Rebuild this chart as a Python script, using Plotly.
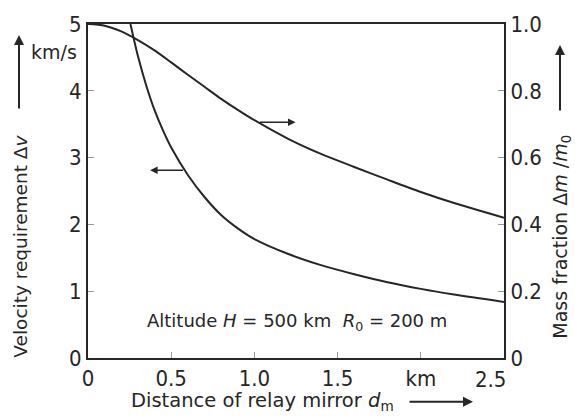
import plotly.graph_objects as go

# Velocity requirement (left axis, km/s)
dist_v = [0.255, 0.30, 0.35, 0.40, 0.45, 0.50, 0.60, 0.70, 0.80, 0.90, 1.00, 1.20, 1.40, 1.60, 1.80, 2.00, 2.20, 2.50]
velocity = [5.0, 4.52, 4.08, 3.71, 3.41, 3.15, 2.74, 2.41, 2.14, 1.94, 1.78, 1.56, 1.39, 1.255, 1.135, 1.035, 0.95, 0.84]

# Mass fraction (right axis)
dist_m = [0.0, 0.1, 0.2, 0.3, 0.4, 0.5, 0.6, 0.7, 0.8, 0.9, 1.0, 1.2, 1.4, 1.6, 1.8, 2.0, 2.2, 2.5]
mass_frac = [1.0, 0.995, 0.978, 0.952, 0.921, 0.885, 0.848, 0.812, 0.776, 0.743, 0.712, 0.657, 0.611, 0.572, 0.534, 0.497, 0.464, 0.42]

x_tickvals = [0, 0.5, 1.0, 1.5, 2.0, 2.5]
x_ticktext = ["0", "0.5", "1.0", "1.5", "km", "2.5"]
y_tickvals = [0, 1, 2, 3, 4, 5]
y2_tickvals = [0, 0.2, 0.4, 0.6, 0.8, 1.0]
y2_ticktext = ["0", "0.2", "0.4", "0.6", "0.8", "1.0"]

INK = "#262626"
TICKFONT = "Liberation Sans Narrow, DejaVu Sans Condensed, Arial"
FONT = "DejaVu Sans, Verdana, sans-serif"

W, H = 575, 416
ML, MR, MT, MB = 88, 71, 22, 58
PW, PH = W - ML - MR, H - MT - MB


def px(xp):
    return (xp - ML) / PW


def py(yp):
    return (H - MB - yp) / PH


fig = go.Figure()
fig.add_trace(go.Scatter(x=dist_v, y=velocity, mode="lines",
                         line=dict(color=INK, width=2, shape="spline", smoothing=0.8),
                         yaxis="y", showlegend=False))
fig.add_trace(go.Scatter(x=dist_m, y=mass_frac, mode="lines",
                         line=dict(color=INK, width=2, shape="spline", smoothing=0.8),
                         yaxis="y2", showlegend=False))

tickfont = dict(family=TICKFONT, size=22, color=INK)
axis_common = dict(showgrid=False, zeroline=False, showline=True, linecolor=INK, linewidth=2,
                   ticks="inside", ticklen=6, tickwidth=1, tickcolor="#999", tickfont=tickfont)

# last x tick label is drawn shifted left of its tick (as in the original), so it is placed separately
x_ticktext_axis = x_ticktext[:-1] + [""]

fig.update_layout(
    width=W, height=H,
    margin=dict(l=ML, r=MR, t=MT, b=MB),
    paper_bgcolor="white", plot_bgcolor="white",
    font=dict(family=FONT, size=18, color=INK),
    xaxis=dict(range=[0, 2.5], tickvals=x_tickvals, ticktext=x_ticktext_axis, mirror=True, **axis_common),
    yaxis=dict(range=[0, 5], tickvals=y_tickvals, **axis_common),
    yaxis2=dict(range=[0, 1], tickvals=y2_tickvals, ticktext=y2_ticktext, overlaying="y", side="right",
                **axis_common),
)


def label(xp, yp, text, angle=0, size=18):
    return dict(x=px(xp), y=py(yp), xref="paper", yref="paper", xanchor="center", yanchor="middle",
                showarrow=False, textangle=angle, text=text, font=dict(family=FONT, size=size, color=INK))


def arrow(xp, yp, dx, dy):
    return dict(x=px(xp), y=py(yp), xref="paper", yref="paper", ax=dx, ay=dy, text="", showarrow=True,
                arrowhead=2, arrowsize=1, arrowwidth=2, arrowcolor=INK)


ann = []
# shifted last x tick label
ann.append(dict(x=x_tickvals[-1], y=0, xref="x", yref="paper", xanchor="right", yanchor="top",
                xshift=4, yshift=-7, showarrow=False, text=x_ticktext[-1], font=tickfont))
# in-plot arrows pointing to the respective axes
ann.append(dict(x=0.3735, y=2.81, xref="x", yref="y", ax=0.58, ay=2.81, axref="x", ayref="y",
                text="", showarrow=True, arrowhead=2, arrowsize=1, arrowwidth=1.5, arrowcolor=INK))
ann.append(dict(x=1.247, y=3.53, xref="x", yref="y", ax=1.024, ay=3.53, axref="x", ayref="y",
                text="", showarrow=True, arrowhead=2, arrowsize=1, arrowwidth=1.5, arrowcolor=INK))
# in-plot label
ann.append(label(297, 322, "Altitude <i>H</i> = 500 km  <i>R</i><sub>0</sub> = 200 m", size=18))
# left axis title
ann.append(label(21, 246, "Velocity requirement Δ<i>v</i>", angle=-90, size=18.5))
ann.append(arrow(19, 33, 0, 75))
ann.append(label(54, 50, "km/s", size=19))
# right axis title
ann.append(label(562, 236, "Mass fraction Δ<i>m</i> /<i>m</i><sub>0</sub>", angle=-90, size=19))
ann.append(arrow(560, 43, 0, 67))
# x axis title
ann.append(label(262, 402, "Distance of relay mirror <i>d</i><sub>m</sub>", size=19.5))
ann.append(arrow(473, 402, -65, 0))

fig.update_layout(annotations=ann)
fig.write_html("out.html")
